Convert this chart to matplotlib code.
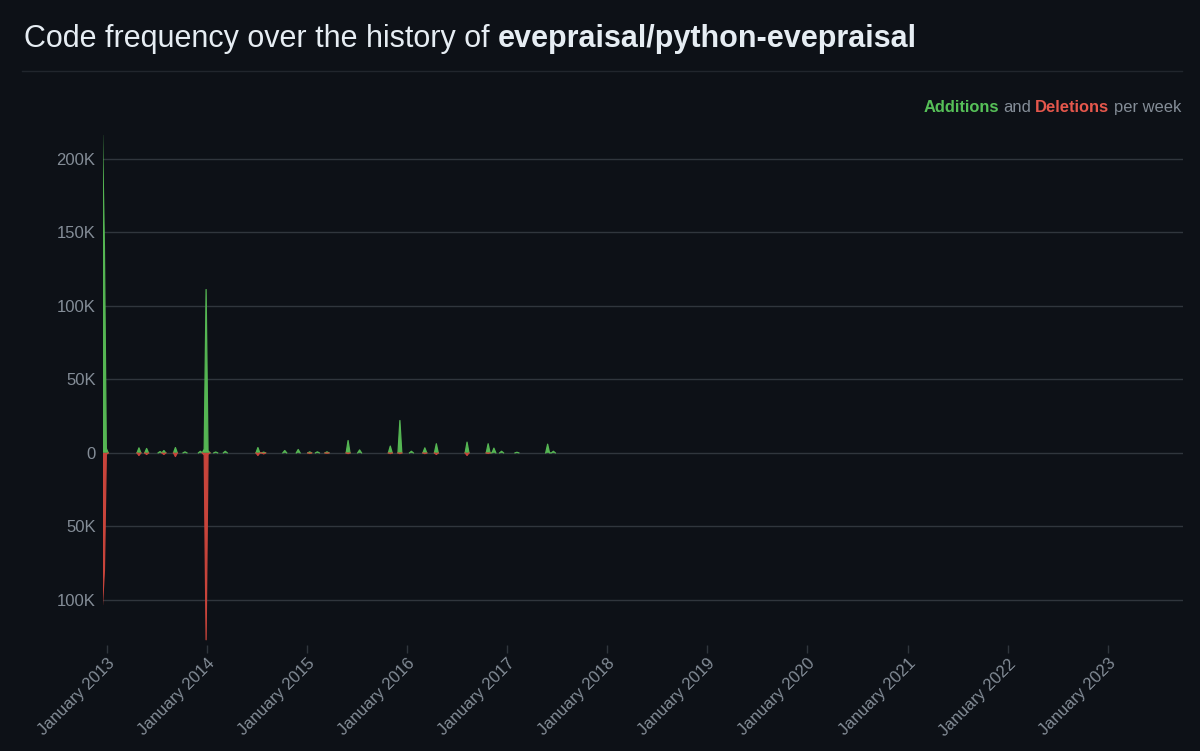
import matplotlib
matplotlib.use('Agg')
import matplotlib.pyplot as plt
import numpy as np
import pandas as pd
from matplotlib.lines import Line2D

# ---------------- data ----------------
first_week = '2012-12-16'
last_week = '2023-10-01'

change_weeks = [
    '2012-12-16', '2012-12-23', '2012-12-30',
    '2013-04-28', '2013-05-26', '2013-07-14', '2013-07-28', '2013-09-08',
    '2013-10-13', '2013-12-08', '2013-12-22', '2013-12-29', '2014-01-05',
    '2014-02-02', '2014-03-09', '2014-07-06', '2014-07-27', '2014-10-12',
    '2014-11-30', '2015-01-11', '2015-02-08', '2015-03-15', '2015-05-31',
    '2015-07-12', '2015-11-01', '2015-12-06', '2016-01-17', '2016-03-06',
    '2016-04-17', '2016-08-07', '2016-10-23', '2016-11-13', '2016-12-11',
    '2017-02-05', '2017-05-28', '2017-06-18',
]
additions = [
    216000, 140000, 3000,
    3400, 3000, 900, 1600, 3600,
    700, 1100, 2500, 111000, 1500,
    600, 1100, 3600, 500, 1600,
    2300, 700, 700, 700, 8400,
    2000, 4600, 22000, 1100, 3400,
    6200, 7300, 6200, 3200, 1100,
    400, 5900, 1100,
]
deletions = [
    -103000, -80000, -1000,
    -1800, -1100, 0, -1100, -2500,
    0, 0, -1500, -127000, -1000,
    0, 0, -1800, -700, 0,
    0, -400, 0, -300, -500,
    0, -500, -500, 0, -500,
    -1100, -1800, -400, 0, 0,
    0, 0, 0,
]

year_ticks = ['2013-01-01', '2014-01-01', '2015-01-01', '2016-01-01',
              '2017-01-01', '2018-01-01', '2019-01-01', '2020-01-01',
              '2021-01-01', '2022-01-01', '2023-01-01']
year_labels = ['January 2013', 'January 2014', 'January 2015', 'January 2016',
               'January 2017', 'January 2018', 'January 2019', 'January 2020',
               'January 2021', 'January 2022', 'January 2023']
y_ticks = [-100000, -50000, 0, 50000, 100000, 150000, 200000]
y_labels = ['100K', '50K', '0', '50K', '100K', '150K', '200K']

# ---------------- style ----------------
BG = '#0d1117'
GRID = '#30363d'
MUTED = '#848d97'
TITLE = '#e6edf3'
GREEN = '#55b653'
RED = '#c8443b'
GREEN_TXT = '#56c058'
RED_TXT = '#e5574c'
FONT = ['Liberation Sans', 'DejaVu Sans']
plt.rcParams['font.family'] = FONT

weeks = pd.date_range(first_week, last_week, freq='W-SUN')
idx = pd.to_datetime(change_weeks)
add_s = pd.Series(additions, index=idx, dtype=float).reindex(weeks, fill_value=0.0)
del_s = pd.Series(deletions, index=idx, dtype=float).reindex(weeks, fill_value=0.0)


def stroke_only_active(s):
    """Hide the outline where the series sits on zero between zero weeks."""
    v = s.values.copy()
    nz = v != 0
    keep = nz.copy()
    keep[1:] |= nz[:-1]
    keep[:-1] |= nz[1:]
    return np.ma.masked_where(~keep, v)


fig = plt.figure(figsize=(12, 7.51), dpi=100, facecolor=BG)
ax = fig.add_axes([102.5 / 1200, 1 - 645 / 751, (1182.7 - 102.5) / 1200, (645 - 135) / 751])
ax.set_facecolor(BG)

ax.fill_between(weeks, 0, add_s.values, facecolor=GREEN, linewidth=0, zorder=3)
ax.fill_between(weeks, 0, del_s.values, facecolor=RED, linewidth=0, zorder=3)
ax.plot(weeks, stroke_only_active(add_s), color=GREEN, lw=0.9, zorder=4)
ax.plot(weeks, stroke_only_active(del_s), color=RED, lw=0.9, zorder=4)

ax.set_xlim(weeks[0], weeks[-1])
ax.set_ylim(min(deletions) * 1.028, max(additions))

ax.set_yticks(y_ticks)
ax.set_yticklabels(y_labels)
ax.set_xticks(pd.to_datetime(year_ticks))
ax.set_xticklabels(year_labels, rotation=45, ha='right', rotation_mode='anchor')

ax.grid(axis='y', color=GRID, linewidth=1, zorder=0)
ax.grid(axis='x', visible=False)
for s in ax.spines.values():
    s.set_visible(False)
ax.tick_params(axis='y', length=0, pad=5, labelsize=12, labelcolor=MUTED)
ax.tick_params(axis='x', length=6, width=1, color=GRID, pad=2, labelsize=12,
               labelcolor=MUTED)

# title
t1 = fig.text(24 / 1200, 1 - 47 / 751, 'Code frequency over the history of ',
              color=TITLE, fontsize=22, va='baseline', ha='left')
fig.canvas.draw()
ax.annotate('evepraisal/python-evepraisal', xy=(1, 0), xycoords=t1,
            color=TITLE, fontsize=22, fontweight='bold', va='bottom', ha='left',
            annotation_clip=False)

fig.add_artist(Line2D([22 / 1200, 1182 / 1200], [1 - 71 / 751] * 2, color='#21262d', lw=1))

# legend text
lg = 11.9
l4 = fig.text(1181 / 1200, 1 - 112 / 751, 'per week', color=MUTED, fontsize=lg,
              ha='right', va='baseline')
l3 = ax.annotate('Deletions', xy=(0, 0), xycoords=l4, xytext=(-3, 0),
                 textcoords='offset points', color=RED_TXT, fontsize=lg,
                 fontweight='bold', ha='right', va='bottom', annotation_clip=False)
l2 = ax.annotate('and', xy=(0, 0), xycoords=l3, xytext=(-3, 0),
                 textcoords='offset points', color=MUTED, fontsize=lg,
                 ha='right', va='bottom', annotation_clip=False)
l1 = ax.annotate('Additions', xy=(0, 0), xycoords=l2, xytext=(-3, 0),
                 textcoords='offset points', color=GREEN_TXT, fontsize=lg,
                 fontweight='bold', ha='right', va='bottom', annotation_clip=False)

fig.savefig('out.png', dpi=100, facecolor=BG)
